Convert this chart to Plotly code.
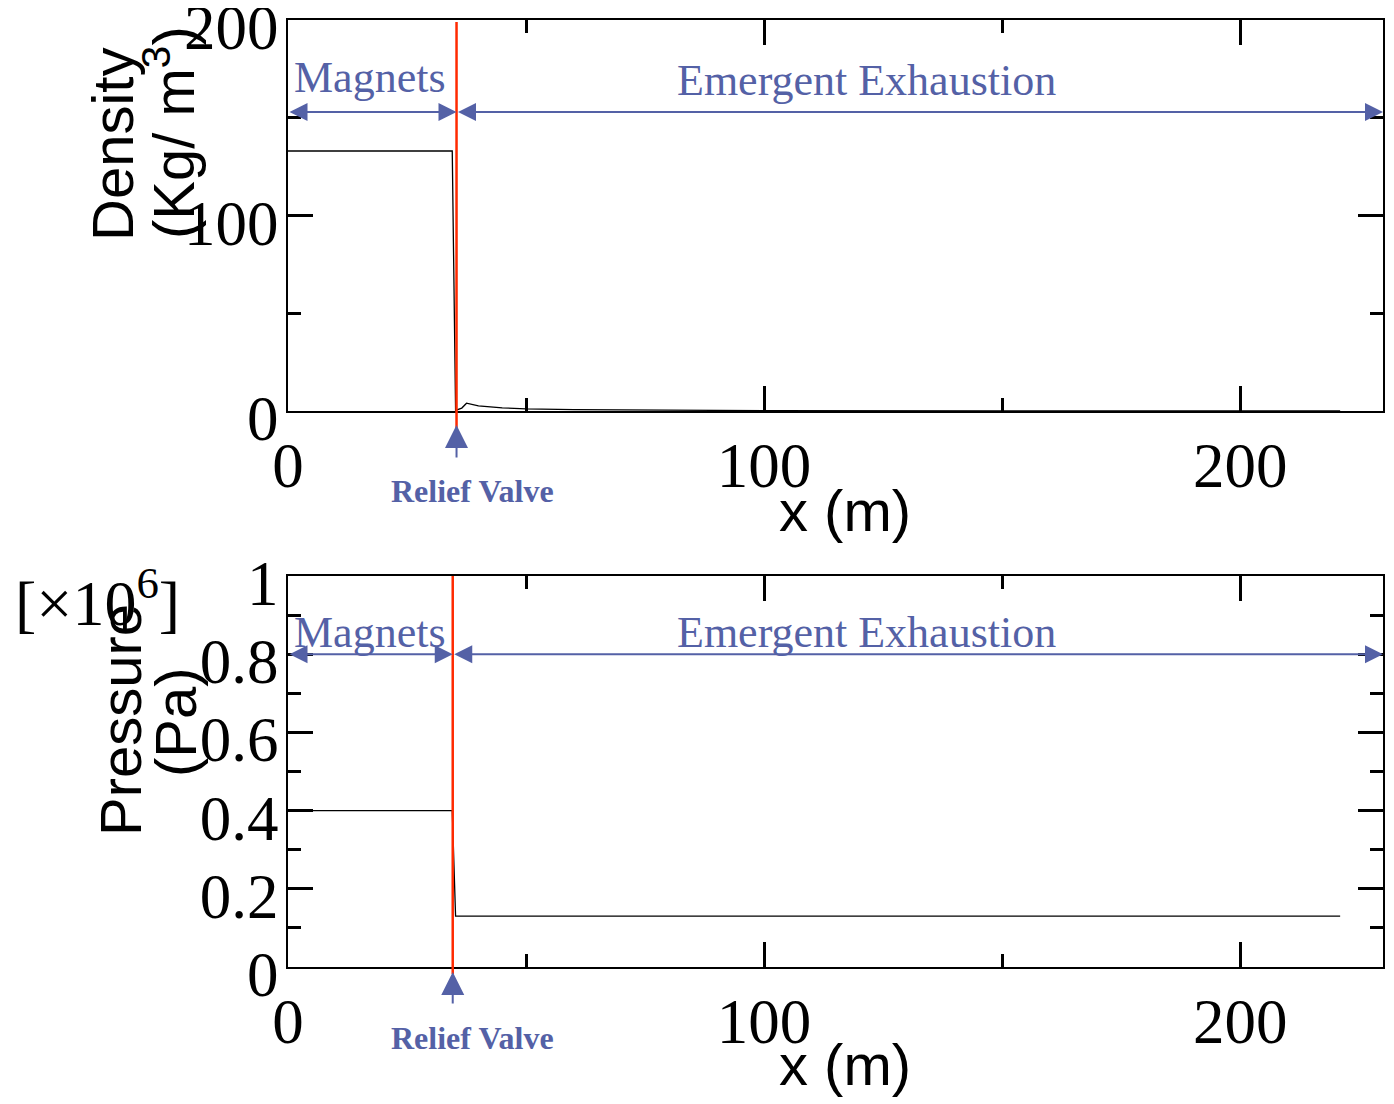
import plotly.graph_objects as go

# ---- data ----
density_x = [0, 34.5, 35.2, 36.5, 37.5, 40, 45, 50, 60, 80, 100, 150, 221]
density_y = [133, 133, 0.3, 1.5, 4.0, 2.6, 1.6, 1.1, 0.7, 0.35, 0.2, 0.1, 0.05]
pressure_x = [0, 34.5, 35.2, 221]
pressure_y = [0.40, 0.40, 0.13, 0.13]
x_ticks = [0, 100, 200]
dens_ticks = [0, 100, 200]
pres_ticks = [0, 0.2, 0.4, 0.6, 0.8, 1.0]
pres_ticktext = ["0", "0.2", "0.4", "0.6", "0.8", "1"]
valve_x_top = 35.4
valve_x_bot = 34.6
arrow_y_top = 153
arrow_y_bot = 0.8
x_max = 230

# page body has an 8px default margin; compensate so the picture lines up
OX, OY = 8, 8
W, H = 1394 - OX, 1104 - OY
BLUE = "#5461a6"
RED = "#ff2a00"
SERIF = "Liberation Serif"
SANS = "Liberation Sans"

def px(x):
    return (x - OX) / W

def py(y):
    return 1 - (y - OY) / H

fig = go.Figure()
fig.add_trace(go.Scatter(x=density_x, y=density_y, mode="lines",
                         line=dict(color="black", width=1.3), xaxis="x", yaxis="y",
                         showlegend=False))
fig.add_trace(go.Scatter(x=pressure_x, y=pressure_y, mode="lines",
                         line=dict(color="black", width=1.3), xaxis="x2", yaxis="y2",
                         showlegend=False))

axcommon = dict(showline=True, linecolor="black", linewidth=2, mirror="allticks",
                ticks="inside", ticklen=25, tickwidth=3, tickcolor="black",
                showgrid=False, zeroline=False, automargin=False,
                ticklabeloverflow="allow",
                tickfont=dict(family=SERIF, size=63, color="black"))

xdom = [px(288), px(1383)]
fig.update_layout(
    width=W, height=H, autosize=False,
    margin=dict(l=0, r=0, t=0, b=0, pad=0),
    paper_bgcolor="white", plot_bgcolor="white",
    xaxis=dict(domain=xdom, range=[0, x_max], anchor="y", tickvals=x_ticks,
               ticklabelstandoff=-2,
               minor=dict(tickvals=[50, 150], ticklen=13, tickwidth=3, ticks="inside",
                          tickcolor="black"),
               **axcommon),
    yaxis=dict(domain=[py(411), py(20)], range=[0, 200], anchor="x", tickvals=dens_ticks,
               ticklabelstandoff=-5, ticklabelshift=7,
               minor=dict(tickvals=[50, 150], ticklen=13, tickwidth=3, ticks="inside",
                          tickcolor="black"),
               **axcommon),
    xaxis2=dict(domain=xdom, range=[0, x_max], anchor="y2", tickvals=x_ticks,
                ticklabelstandoff=-2,
                minor=dict(tickvals=[50, 150], ticklen=13, tickwidth=3, ticks="inside",
                           tickcolor="black"),
                **axcommon),
    yaxis2=dict(domain=[py(967), py(576)], range=[0, 1], anchor="x2", tickvals=pres_ticks,
                ticktext=pres_ticktext, ticklabelstandoff=-5, ticklabelshift=7,
                minor=dict(tickvals=[0.1, 0.3, 0.5, 0.7, 0.9], ticklen=13, tickwidth=3,
                           ticks="inside", tickcolor="black"),
                **axcommon),
)

# red relief-valve lines
fig.add_shape(type="line", xref="x", yref="paper", x0=valve_x_top, x1=valve_x_top,
              y0=py(432), y1=py(22), line=dict(color=RED, width=2.5))
fig.add_shape(type="line", xref="x2", yref="paper", x0=valve_x_bot, x1=valve_x_bot,
              y0=py(974), y1=py(576), line=dict(color=RED, width=2.5))

anns = []
# double arrows
for xr, yr, xv, yv in [("x", "y", valve_x_top, arrow_y_top), ("x2", "y2", valve_x_bot, arrow_y_bot)]:
    anns.append(dict(x=xv, y=yv, ax=0, ay=yv, xref=xr, yref=yr, axref=xr, ayref=yr,
                     text="", showarrow=True, arrowhead=2, arrowside="end+start",
                     arrowsize=1.8, arrowwidth=2, arrowcolor=BLUE, standoff=0, startstandoff=0))
    anns.append(dict(x=x_max, y=yv, ax=xv, ay=yv, xref=xr, yref=yr, axref=xr, ayref=yr,
                     text="", showarrow=True, arrowhead=2, arrowside="end+start",
                     arrowsize=1.8, arrowwidth=2, arrowcolor=BLUE, standoff=0, startstandoff=0))

# up arrows for relief valve
anns.append(dict(x=valve_x_top, y=py(425), ax=0, ay=34, xref="x", yref="paper",
                 axref="pixel", ayref="pixel", text="", showarrow=True, arrowhead=2,
                 arrowsize=2.3, arrowwidth=2, arrowcolor=BLUE))
anns.append(dict(x=valve_x_bot, y=py(972), ax=0, ay=33, xref="x2", yref="paper",
                 axref="pixel", ayref="pixel", text="", showarrow=True, arrowhead=2,
                 arrowsize=2.3, arrowwidth=2, arrowcolor=BLUE))

def txt(t, x, y, fam, size, color="black", angle=0):
    return dict(text=t, x=px(x), y=py(y), xref="paper", yref="paper", showarrow=False,
                xanchor="center", yanchor="middle", textangle=angle,
                font=dict(family=fam, size=size, color=color))

anns += [
    txt("Magnets", 370, 78, SERIF, 44, BLUE),
    txt("Emergent Exhaustion", 866, 80, SERIF, 44, BLUE),
    txt("Magnets", 370, 632, SERIF, 44, BLUE),
    txt("Emergent Exhaustion", 866, 632, SERIF, 44, BLUE),
    txt("<b>Relief Valve</b>", 472, 491, SERIF, 32, BLUE),
    txt("<b>Relief Valve</b>", 472, 1038, SERIF, 32, BLUE),
    txt("x (m)", 845, 510, SANS, 58),
    txt("x (m)", 845, 1064, SANS, 58),
    txt("Density", 112, 145, SANS, 58, angle=-90),
    txt("(Kg/ m<sup>3</sup>)", 170, 133, SANS, 58, angle=-90),
    txt("Pressure", 120, 720, SANS, 58, angle=-90),
    txt("(Pa)", 175, 722, SANS, 58, angle=-90),
    txt("[×10<sup>6</sup>]", 97, 598, SERIF, 64),
]
fig.update_layout(annotations=anns)

fig.write_html("out.html")
